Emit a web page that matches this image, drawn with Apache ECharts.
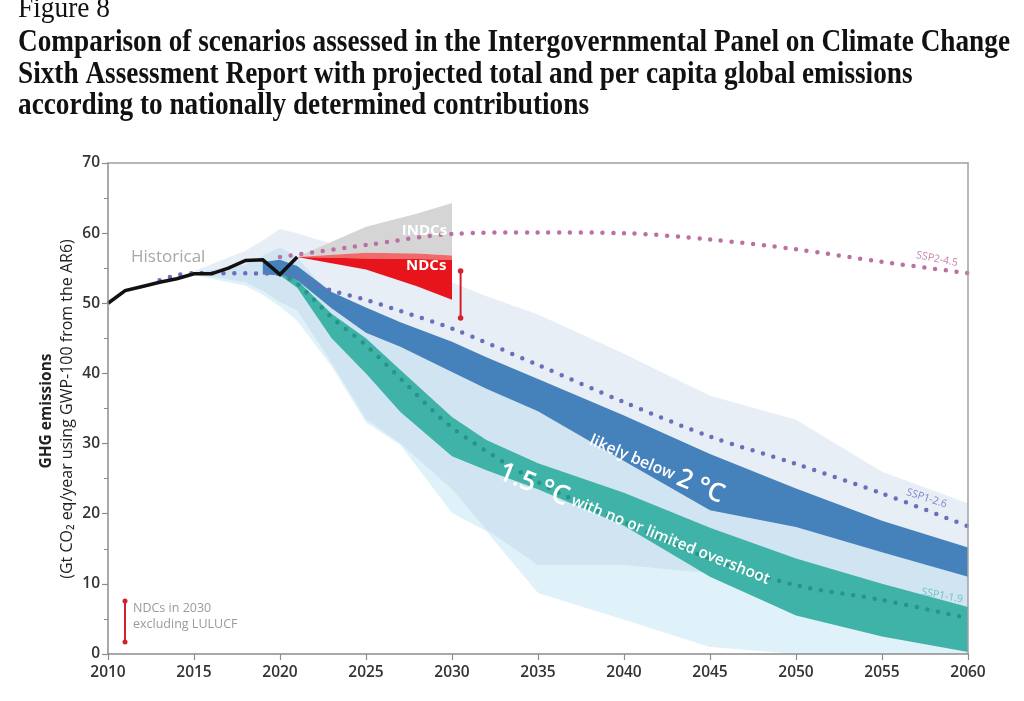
<!DOCTYPE html>
<html><head><meta charset="utf-8">
<script src="https://cdn.jsdelivr.net/npm/echarts@6/dist/echarts.min.js"></script>
<style>html,body{margin:0;padding:0;background:#fff}#c{width:1024px;height:701px}</style>
</head><body><div id="c"></div>
<script>
// ---------- DATA ----------
const histYears  = [2010, 2011, 2012, 2013, 2014, 2015, 2016, 2017, 2018, 2019, 2020, 2021];
const histValues = [50.0, 51.8, 52.4, 53.0, 53.5, 54.2, 54.2, 55.0, 56.1, 56.2, 54.1, 56.6];

const projYears   = [2015, 2018, 2019, 2020, 2021, 2023, 2025, 2027, 2030, 2032, 2035, 2040, 2045, 2050, 2055, 2060];
const range2cHigh = [54.6, 57.5, 59.0, 60.6, 60.0, 58.5, 57.2, 55.5, 53.0, 51.0, 48.4, 42.8, 36.8, 33.4, 26.0, 21.5];
const range2cLow  = [54.2, 53.0, 51.8, 50.2, 49.0, 41.5, 33.5, 30.0, 23.5, 17.7, 12.7, 12.7, 11.5, 8.0, 5.0, 3.0];
const range15High = [54.4, 55.5, 56.8, 58.0, 56.5, 51.0, 47.5, 45.5, 42.0, 39.5, 36.5, 29.5, 22.0, 19.5, 15.5, 12.0];
const range15Low  = [54.0, 52.5, 51.2, 49.5, 47.5, 41.0, 33.0, 29.8, 20.1, 17.5, 8.7, 4.9, 1.0, 0, 0, 0];
const below2High  = [null, null, 55.9, 56.2, 55.3, 51.6, 49.4, 47.3, 44.5, 42.3, 39.2, 34.0, 28.5, 23.6, 19.0, 15.2];
const below2Low   = [null, null, 54.1, 54.0, 53.3, 49.3, 45.8, 43.8, 40.2, 37.8, 34.6, 27.5, 20.5, 18.1, 14.5, 11.0];
const c15High     = [null, null, null, 54.2, 53.3, 48.5, 45.0, 40.5, 33.8, 30.5, 27.2, 23.0, 18.0, 13.6, 10.0, 6.7];
const c15Low      = [null, null, null, 54.0, 52.2, 45.0, 40.0, 34.5, 28.2, 26.2, 23.5, 18.3, 11.0, 5.5, 2.5, 0.3];

const ssp245Years = [2020, 2025, 2030, 2035, 2040, 2045, 2050, 2055, 2060];
const ssp245      = [56.6, 58.3, 59.9, 60.1, 60.0, 59.1, 57.7, 55.9, 54.3];
const ssp126Years = [2013, 2014, 2015, 2020, 2021, 2023, 2025, 2027, 2030, 2035, 2040, 2045, 2050, 2055, 2060];
const ssp126      = [53.3, 54.0, 54.3, 54.2, 53.6, 51.8, 50.5, 48.9, 46.4, 41.2, 35.9, 31.0, 27.1, 22.9, 18.2];
const ssp119Years = [2020, 2021, 2023, 2025, 2027, 2030, 2035, 2040, 2045, 2050, 2055, 2060];
const ssp119      = [54.2, 52.8, 48.0, 44.0, 39.3, 32.3, 24.5, 18.8, 13.6, 9.8, 7.7, 5.1];

const ndcYears     = [2021, 2025, 2028, 2030];
const indcHigh     = [56.6, 60.9, 62.8, 64.3];
const ndcLightHigh = [56.6, 57.2, 57.1, 56.8];
const ndcHigh      = [56.6, 56.4, 56.3, 56.2];
const ndcLow       = [56.6, 54.8, 52.4, 50.5];

const ndcBarYear = 2030.5;
const ndcBar2030 = [47.9, 54.6];

const xTicks = [2010, 2015, 2020, 2025, 2030, 2035, 2040, 2045, 2050, 2055, 2060];

// ---------- helpers ----------
function zip(xs, ys) { return xs.map((x, i) => [x, ys[i]]); }
function band(name, xs, hi, lo, fill, z) {
  const rows = [];
  xs.forEach((x, i) => { if (hi[i] != null && lo[i] != null) rows.push([x, hi[i], lo[i]]); });
  return {
    type: 'custom', name, z, silent: true, clip: false,
    data: rows, encode: { x: 0, y: [1, 2] },
    renderItem(params, api) {
      if (params.dataIndex !== 0) return null;
      const top = rows.map(r => api.coord([r[0], r[1]]));
      const bot = rows.map(r => api.coord([r[0], r[2]])).reverse();
      return { type: 'polygon', shape: { points: top.concat(bot) }, style: { fill } };
    }
  };
}
function dotted(name, xs, ys, color) {
  return {
    type: 'line', name, data: zip(xs, ys), z: 6, smooth: 0.3, showSymbol: false, silent: true,
    lineStyle: { color, width: 4.5, type: [0, 10.8], cap: 'round' }
  };
}
function textAt(x, y, text, style, rotDeg, z) {
  return {
    type: 'custom', z: z || 9, silent: true, clip: false, data: [[x, y]],
    renderItem(params, api) {
      const p = api.coord([x, y]);
      return { type: 'text', x: p[0], y: p[1], rotation: (rotDeg || 0) * Math.PI / 180,
        style: Object.assign({ text, align: 'center', verticalAlign: 'middle' }, style) };
    }
  };
}
function fitScale(text, font, target) {
  const c = document.createElement('canvas').getContext('2d');
  c.font = font; return target / c.measureText(text).width;
}

const SANS = '"Open Sans", "Noto Sans", sans-serif';
const titleFont = 'bold 32px "Liberation Serif", serif';
const t1 = 'Comparison of scenarios assessed in the Intergovernmental Panel on Climate Change';
const t2 = 'Sixth Assessment Report with projected total and per capita global emissions';
const t3 = 'according to nationally determined contributions';
const sx = fitScale(t1, titleFont, 992);
const figFont = '29px "Liberation Serif", serif';
const sxf = fitScale('Figure 8', figFont, 92);

const chart = echarts.init(document.getElementById('c'), null, { renderer: 'canvas' });
const option = {
  animation: false,
  backgroundColor: '#fff',
  grid: { left: 108, right: 56, top: 163, bottom: 47, show: false },
  xAxis: [{
    type: 'value', min: 2010, max: 2060, interval: 5, z: 10,
    axisLine: { show: true, lineStyle: { color: '#8c8c8c', width: 1.5 } },
    axisTick: { show: true, length: 6, lineStyle: { color: '#8c8c8c', width: 1.2 } },
    axisLabel: { color: '#333', fontSize: 15.5, fontWeight: 600, fontFamily: SANS, margin: 11,
      formatter: v => xTicks.includes(v) ? String(v) : '' },
    splitLine: { show: false }
  }, {
    type: 'value', min: 2010, max: 2060, position: 'top', z: 10,
    axisLine: { show: true, onZero: false, lineStyle: { color: '#a0a0a0', width: 1.5 } },
    axisTick: { show: false }, axisLabel: { show: false }, splitLine: { show: false }
  }],
  yAxis: [{
    type: 'value', min: 0, max: 70, interval: 10, z: 10,
    axisLine: { show: true, lineStyle: { color: '#8c8c8c', width: 1.5 } },
    axisTick: { show: true, length: 6, lineStyle: { color: '#8c8c8c', width: 1.2 } },
    minorTick: { show: true, splitNumber: 2, length: 4, lineStyle: { color: '#8c8c8c', width: 1 } },
    axisLabel: { color: '#333', fontSize: 15.5, fontWeight: 600, fontFamily: SANS, margin: 8 },
    splitLine: { show: false }
  }, {
    type: 'value', min: 0, max: 70, position: 'right', z: 10,
    axisLine: { show: true, onZero: false, lineStyle: { color: '#a0a0a0', width: 1.5 } },
    axisTick: { show: false }, axisLabel: { show: false }, splitLine: { show: false }
  }],
  series: [
    band('1.5 °C range', projYears, range15High, range15Low, 'rgba(160,215,235,0.32)', 1),
    band('2 °C range', projYears, range2cHigh, range2cLow, 'rgba(170,195,222,0.28)', 2),
    band('likely below 2 °C', projYears, below2High, below2Low, '#4582bb', 3),
    band('1.5 °C no or limited overshoot', projYears, c15High, c15Low, '#40b3a9', 3),
    band('INDCs', ndcYears, indcHigh, ndcLightHigh, '#d5d5d5', 4),
    band('NDCs light', ndcYears, ndcLightHigh, ndcHigh, '#ef6a6a', 4),
    band('NDCs', ndcYears, ndcHigh, ndcLow, '#e8141c', 4),
    dotted('SSP2-4.5', ssp245Years, ssp245, '#bb6fa3'),
    dotted('SSP1-2.6', ssp126Years, ssp126, '#6a6fba'),
    dotted('SSP1-1.9', ssp119Years, ssp119, '#279586'),
    {
      type: 'line', name: 'Historical', data: zip(histYears, histValues), z: 7,
      showSymbol: false, silent: true, lineStyle: { color: '#111', width: 3.5, join: 'miter' }
    },
    {
      type: 'custom', name: 'NDCs in 2030', z: 8, silent: true, clip: false,
      data: [[ndcBarYear, ndcBar2030[0], ndcBar2030[1]]], encode: { x: 0, y: [1, 2] },
      renderItem(params, api) {
        const a = api.coord([api.value(0), api.value(1)]);
        const b = api.coord([api.value(0), api.value(2)]);
        const col = '#d0222e';
        return { type: 'group', children: [
          { type: 'line', shape: { x1: a[0], y1: a[1], x2: b[0], y2: b[1] }, style: { stroke: col, lineWidth: 2 } },
          { type: 'circle', shape: { cx: a[0], cy: a[1], r: 2.8 }, style: { fill: col } },
          { type: 'circle', shape: { cx: b[0], cy: b[1], r: 2.8 }, style: { fill: col } }
        ] };
      }
    },
    textAt(2028.4, 60.3, 'INDCs', { fill: '#fff', font: 'bold 15px ' + SANS }),
    textAt(2028.5, 55.3, 'NDCs', { fill: '#fff', font: 'bold 15px ' + SANS }),
    textAt(2013.5, 56.6, 'Historical', { fill: '#a8a8a8', font: '17px ' + SANS }),
    textAt(2058.2, 56.3, 'SSP2-4.5', { fill: '#c682b2', font: '10.5px ' + SANS }, -11),
    textAt(2057.6, 22.2, 'SSP1-2.6', { fill: '#7f83c2', font: '10.5px ' + SANS }, -18),
    textAt(2058.5, 8.3, 'SSP1-1.9', { fill: '#6fc6bd', font: '10.5px ' + SANS }, -11),
    textAt(2041.9, 26.5, '{a|likely below }{b|2 °C}', {
      fill: '#fff', rich: {
        a: { fill: '#fff', font: '600 16px ' + SANS },
        b: { fill: '#fff', font: '600 26px ' + SANS }
      } }, -23),
    textAt(2040.6, 18.3, '{b|1.5 °C}{a| with no or limited overshoot}', {
      fill: '#fff', rich: {
        a: { fill: '#fff', font: '600 15.5px ' + SANS },
        b: { fill: '#fff', font: '600 27px ' + SANS }
      } }, -22)
  ],
  graphic: [
    { type: 'text', x: 18, y: 9, scaleX: sxf, style: { text: 'Figure 8', font: figFont, fill: '#111', verticalAlign: 'middle' } },
    { type: 'text', x: 18, y: 43, scaleX: sx, style: { text: t1, font: titleFont, fill: '#111', verticalAlign: 'middle' } },
    { type: 'text', x: 18, y: 75, scaleX: sx, style: { text: t2, font: titleFont, fill: '#111', verticalAlign: 'middle' } },
    { type: 'text', x: 18, y: 106, scaleX: sx, style: { text: t3, font: titleFont, fill: '#111', verticalAlign: 'middle' } },
    { type: 'text', x: 47, y: 411, rotation: Math.PI / 2, style: { text: 'GHG emissions', font: 'bold 15.5px ' + SANS, fill: '#222', align: 'center', verticalAlign: 'middle' } },
    { type: 'text', x: 67, y: 409, rotation: Math.PI / 2, style: { text: '(Gt CO\u2082 eq/year using GWP-100 from the AR6)', font: '16px ' + SANS, fill: '#222', align: 'center', verticalAlign: 'middle' } },
    { type: 'line', shape: { x1: 125, y1: 601, x2: 125, y2: 642 }, style: { stroke: '#d0222e', lineWidth: 2 } },
    { type: 'circle', shape: { cx: 125, cy: 601, r: 2.5 }, style: { fill: '#d0222e' } },
    { type: 'circle', shape: { cx: 125, cy: 642, r: 2.5 }, style: { fill: '#d0222e' } },
    { type: 'text', x: 133, y: 608, style: { text: 'NDCs in 2030', font: '12.5px ' + SANS, fill: '#9a9a9a', verticalAlign: 'middle' } },
    { type: 'text', x: 133, y: 624, style: { text: 'excluding LULUCF', font: '12.5px ' + SANS, fill: '#9a9a9a', verticalAlign: 'middle' } }
  ]
};
chart.setOption(option);
</script>
</body></html>
